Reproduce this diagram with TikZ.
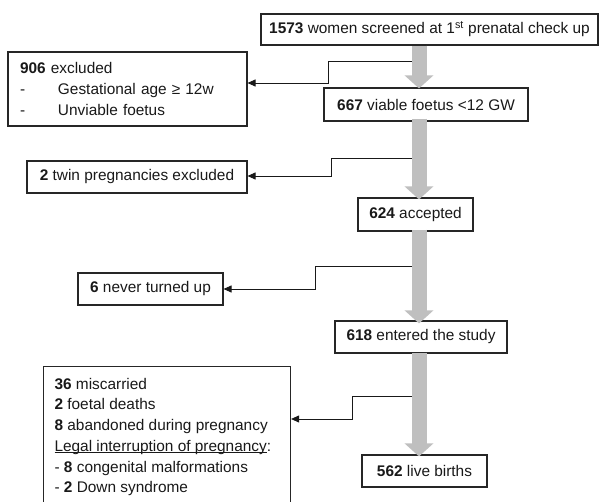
\documentclass[tikz,border=0pt]{standalone}
\usepackage{fontspec}
\setmainfont{Liberation Sans}
\usetikzlibrary{arrows.meta}
\newcommand\boxfont{\fontsize{15.4}{20.7}\selectfont}
% underline drawn just below the baseline
\newcommand\baseunder[1]{\setbox0\hbox{#1}\rlap{\rule[-1.8pt]{\wd0}{0.8pt}}\box0}
\begin{document}
\begin{tikzpicture}[x=1pt,y=-1pt,
  box/.style={draw=black!85, line width=1.1pt, inner sep=0pt, font=\boxfont, text=black!90},
  conn/.style={draw=black!90, line width=0.9pt, -{Triangle[length=8pt,width=7pt]}},
  flow/.style={draw=black!25, line width=15pt, -{Triangle[length=13pt,width=28pt]}}]
\clip (0,0) rectangle (599,502);
\fill[white] (0,0) rectangle (599,502);

% main column
\node[box, minimum width=337pt, minimum height=31pt] (screen) at (429.5,29.5)
  {\textbf{1573} women screened at 1\textsuperscript{st} prenatal check up};
\node[box, minimum width=204pt, minimum height=33pt] (viable) at (426,104.5)
  {\textbf{667} viable foetus <12 GW};
\node[box, minimum width=115pt, minimum height=33pt] (accepted) at (415.5,214.5)
  {\textbf{624} accepted};
\node[box, minimum width=172pt, minimum height=32pt] (entered) at (421,337)
  {\textbf{618} entered the study};
\node[box, minimum width=125pt, minimum height=32pt] (births) at (424.5,471)
  {\textbf{562} live births};

% exclusions
\node[box, text width=215pt, inner xsep=12pt, minimum height=74pt, align=left] (excluded) at (127.5,89)
  {\textbf{906} excluded\\
   \makebox[38pt][l]{-}Gestational age ≥ 12w\\
   \makebox[38pt][l]{-}Unviable foetus};
\node[box, minimum width=220pt, minimum height=32pt] (twins) at (137,177)
  {\textbf{2} twin pregnancies excluded};
\node[box, minimum width=145pt, minimum height=32pt] (never) at (150.5,289)
  {\textbf{6} never turned up};
\node[box, anchor=north west, inner xsep=11pt, inner ysep=11.5pt] (losses) at (43,366)
  {\begin{minipage}[t][150pt][t]{225pt}\boxfont
   \textbf{36} miscarried\\
   \textbf{2} foetal deaths\\
   \textbf{8} abandoned during pregnancy\\
   \baseunder{Legal interruption of pregnancy}:\\
   - \textbf{8} congenital malformations\\
   - \textbf{2} Down syndrome
   \end{minipage}};

% flow arrows
\coordinate (col) at (419,0);
\draw[flow] (col |- screen.south) -- ([yshift=-1pt]col |- viable.north);
\draw[flow] ([yshift=3pt]col |- viable.south) -- ([yshift=-2pt]col |- accepted.north);
\draw[flow] ([yshift=2pt]col |- accepted.south) -- ([yshift=-3pt]col |- entered.north);
\draw[flow] ([yshift=1pt]col |- entered.south) -- ([yshift=-2pt]col |- births.north);

% side branches
\coordinate (s1) at (411.5,61);  \coordinate (k1) at (328,83);
\coordinate (s2) at (411.5,158); \coordinate (k2) at (331,176);
\coordinate (s3) at (411.5,266); \coordinate (k3) at (315,289);
\coordinate (s4) at (411.5,396); \coordinate (k4) at (352,419);
\draw[conn] (s1) -| (k1) -- (k1 -| excluded.east);
\draw[conn] (s2) -| (k2) -- (k2 -| twins.east);
\draw[conn] (s3) -| (k3) -- (k3 -| never.east);
\draw[conn] (s4) -| (k4) -- (k4 -| losses.east);
\end{tikzpicture}
\end{document}
